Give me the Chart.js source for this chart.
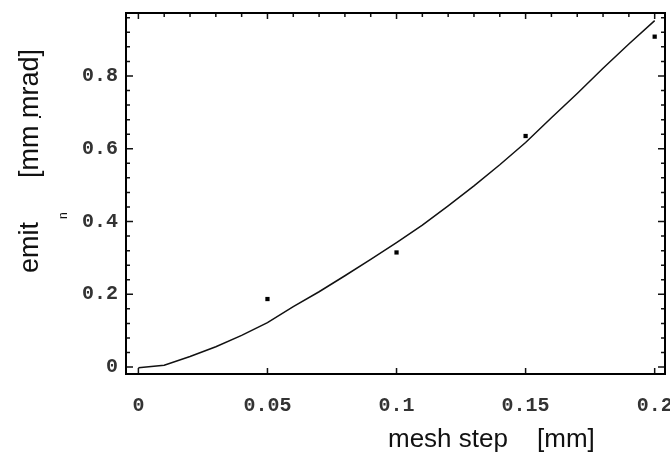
<!DOCTYPE html>
<html>
<head>
<meta charset="utf-8">
<script src="https://cdn.jsdelivr.net/npm/chart.js@4.4.1/dist/chart.umd.min.js"></script>
<style>
  body { margin: 0; background: #fff; }
  #wrap { width: 670px; height: 455px; }
</style>
</head>
<body>
<div id="wrap"><canvas id="emitChart" width="670" height="455"></canvas></div>
<script>
// measured emittance vs mesh step
const meshStep = [0.05, 0.1, 0.15, 0.2];
const emitMeasured = [0.187, 0.315, 0.635, 0.908];

// fitted curve
const fitStep = [0, 0.01, 0.02, 0.03, 0.04, 0.05, 0.06, 0.07, 0.08, 0.09, 0.1,
                 0.11, 0.12, 0.13, 0.14, 0.15, 0.16, 0.17, 0.18, 0.19, 0.2];
const emitFit = [-0.002, 0.005, 0.029, 0.056, 0.087, 0.122, 0.166, 0.207, 0.251, 0.296, 0.342,
                 0.39, 0.443, 0.498, 0.556, 0.617, 0.685, 0.752, 0.821, 0.888, 0.952];

// axis ticks
const xTicks = [0, 0.05, 0.1, 0.15, 0.2];
const xTickLabels = ['0', '0.05', '0.1', '0.15', '0.2'];
const yTicks = [0, 0.2, 0.4, 0.6, 0.8];
const yTickLabels = ['0', '0.2', '0.4', '0.6', '0.8'];
const yMinor = [0.04, 0.08, 0.12, 0.16, 0.24, 0.28, 0.32, 0.36, 0.44, 0.48, 0.52, 0.56,
                0.64, 0.68, 0.72, 0.76, 0.84, 0.88, 0.92, 0.96];

const tickFont = { family: '"Liberation Mono", "DejaVu Sans Mono", monospace', size: 20, weight: 'bold' };

// frame, inward ticks and axis titles (Mathematica-like look)
const framePlugin = {
    id: 'frame',
    afterDraw(chart) {
        const ctx = chart.ctx;
        const { left, right, top, bottom } = chart.chartArea;
        const xs = chart.scales.x;
        const ys = chart.scales.y;
        ctx.save();
        ctx.strokeStyle = '#111';
        ctx.lineWidth = 1.5;
        ctx.beginPath();
        yMinor.forEach(v => {
            const py = ys.getPixelForValue(v);
            ctx.moveTo(left, py); ctx.lineTo(left + 4, py);
            ctx.moveTo(right, py); ctx.lineTo(right - 4, py);
        });
        yTicks.forEach(v => {
            const py = ys.getPixelForValue(v);
            ctx.moveTo(left, py); ctx.lineTo(left + 7, py);
            ctx.moveTo(right, py); ctx.lineTo(right - 7, py);
        });
        for (let i = 0; i <= 20; i++) {
            const px = xs.getPixelForValue(i / 100);
            ctx.moveTo(px, top); ctx.lineTo(px, top + (i % 5 === 0 ? 6 : 4));
        }
        xTicks.forEach(v => {
            const px = xs.getPixelForValue(v);
            ctx.moveTo(px, bottom); ctx.lineTo(px, bottom - 6);
        });
        ctx.stroke();

        ctx.lineWidth = 2;
        ctx.strokeStyle = '#000';
        ctx.strokeRect(left, top, right - left, bottom - top);

        // axis titles
        ctx.fillStyle = '#111';
        ctx.textBaseline = 'alphabetic';
        ctx.textAlign = 'left';
        ctx.font = '26px "Liberation Sans", Arial, sans-serif';
        ctx.fillText('mesh step', 388, 447);
        ctx.fillText('[mm]', 537, 447);

        ctx.font = '27px "Liberation Sans", Arial, sans-serif';
        ctx.save();
        ctx.translate(38, 273);
        ctx.rotate(-Math.PI / 2);
        ctx.fillText('emit', 0, 0);
        ctx.restore();

        ctx.save();
        ctx.translate(38, 178);
        ctx.rotate(-Math.PI / 2);
        ctx.fillText('[mm mrad]', 0, 0);
        ctx.restore();

        ctx.font = '12px "Liberation Sans", Arial, sans-serif';
        ctx.save();
        ctx.translate(67, 219);
        ctx.rotate(-Math.PI / 2);
        ctx.fillText('n', 0, 0);
        ctx.restore();

        ctx.fillRect(39, 116, 2, 2);
        ctx.restore();
    }
};

new Chart(document.getElementById('emitChart').getContext('2d'), {
    type: 'scatter',
    data: {
        datasets: [
            {
                label: 'fit',
                data: fitStep.map((x, i) => ({ x: x, y: emitFit[i] })),
                showLine: true,
                borderColor: '#111',
                borderWidth: 1.5,
                pointRadius: 0,
                tension: 0
            },
            {
                label: 'measured',
                data: meshStep.map((x, i) => ({ x: x, y: emitMeasured[i] })),
                backgroundColor: '#000',
                borderColor: '#000',
                pointStyle: 'rect',
                pointRadius: 3,
                borderWidth: 0
            }
        ]
    },
    options: {
        responsive: false,
        animation: false,
        layout: { padding: { top: 13, right: 5, left: 0, bottom: 0 } },
        plugins: {
            legend: { display: false },
            tooltip: { enabled: false }
        },
        scales: {
            x: {
                type: 'linear',
                min: -0.0048,
                max: 0.204,
                grid: { display: false, drawTicks: false },
                border: { display: false },
                afterBuildTicks: scale => { scale.ticks = xTicks.map(v => ({ value: v })); },
                afterFit: scale => { scale.height = 81; scale.paddingLeft = 0; scale.paddingRight = 0; },
                ticks: {
                    font: tickFont,
                    color: '#333',
                    padding: 20,
                    maxRotation: 0,
                    callback: (v) => xTickLabels[xTicks.indexOf(v)]
                }
            },
            y: {
                type: 'linear',
                min: -0.019,
                max: 0.973,
                grid: { display: false, drawTicks: false },
                border: { display: false },
                afterBuildTicks: scale => { scale.ticks = yTicks.map(v => ({ value: v })); },
                afterFit: scale => { scale.width = 126; scale.paddingTop = 0; scale.paddingBottom = 0; },
                ticks: {
                    font: tickFont,
                    color: '#333',
                    padding: 8,
                    callback: (v) => yTickLabels[yTicks.indexOf(v)]
                }
            }
        }
    },
    plugins: [framePlugin]
});
</script>
</body>
</html>
